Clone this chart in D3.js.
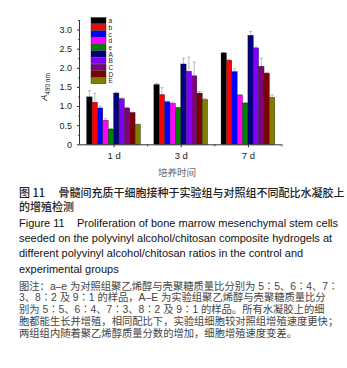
<!DOCTYPE html>
<html><head><meta charset="utf-8">
<script src="https://cdn.jsdelivr.net/npm/d3@7"></script>
<style>body{margin:0;background:#fff}svg{display:block}</style>
</head><body>
<svg id="c" width="347" height="368"></svg>
<script>
const days = ["1 d", "3 d", "7 d"];
const seriesKeys = ["a","b","c","d","e","A","B","C","D","E"];
const seriesColors = ["#000000","#ff0000","#0000ff","#ff00ff","#008000","#000080","#8000ff","#800080","#800000","#808000"];
// values per series for [1 d, 3 d, 7 d]
const valA_ = [1.24, 1.56, 2.39];
const valB_ = [1.10, 1.30, 2.20];
const valC_ = [0.95, 1.11, 1.90];
const valD_ = [0.63, 1.07, 1.29];
const valE_ = [0.40, 0.96, 1.08];
const valAA = [1.34, 2.10, 2.85];
const valBB = [1.19, 1.91, 2.52];
const valCC = [0.95, 1.79, 2.04];
const valDD = [0.83, 1.34, 1.86];
const valEE = [0.52, 1.17, 1.23];
const errA_ = [0.16, 0.03, 0.01];
const errB_ = [0.23, 0.18, 0.02];
const errC_ = [0.05, 0.02, 0.07];
const errD_ = [0.04, 0.03, 0.01];
const errE_ = [0.02, 0.00, 0.01];
const errAA = [0.02, 0.15, 0.10];
const errBB = [0.02, 0.37, 0.02];
const errCC = [0.02, 0.36, 0.21];
const errDD = [0.01, 0.04, 0.02];
const errEE = [0.01, 0.02, 0.06];
const yTicks = [0, 0.5, 1.0, 1.5, 2.0, 2.5, 3.0];
const yTickLabels = ["0", "0.5", "1.0", "1.5", "2.0", "2.5", "3.0"];
const xTitle = "培养时间";
const captionTitle = ["图 11\u3000 骨髓间充质干细胞接种于实验组与对照组不同配比水凝胶上", "的增殖检测"];
const captionFig = "Figure 11";
const captionEn = ["Proliferation of bone marrow mesenchymal stem cells",
  "seeded on the polyvinyl alcohol/chitosan composite hydrogels at",
  "different polyvinyl alcohol/chitosan ratios in the control and",
  "experimental groups"];
const captionNote = ["图注：a–e 为对照组聚乙烯醇与壳聚糖质量比分别为 5∶5、6∶4、7∶",
  "3、8∶2 及 9∶1 的样品，A–E 为实验组聚乙烯醇与壳聚糖质量比分",
  "别为 5∶5、6∶4、7∶3、8∶2 及 9∶1 的样品。所有水凝胶上的细",
  "胞都能生长并增殖，相同配比下，实验组细胞较对照组增殖速度更快；",
  "两组组内随着聚乙烯醇质量分数的增加，细胞增殖速度变差。"];

const vals = [valA_, valB_, valC_, valD_, valE_, valAA, valBB, valCC, valDD, valEE];
const errs = [errA_, errB_, errC_, errD_, errE_, errAA, errBB, errCC, errDD, errEE];

const svg = d3.select("#c");
const x0 = 80, x1 = 281.5, yBase = 144.3, yTop = 20;
const x = d3.scaleLinear().domain([0.5, 3.5]).range([x0, x1]);
const y = d3.scaleLinear().domain([0, 3.25]).range([yBase, yTop]);
const inner = d3.scaleBand().domain(seriesKeys).range([-0.4, 0.4]).padding(0);
const gw = x(1) - x(0);

// bars
const data = [];
seriesKeys.forEach((k, si) => days.forEach((d, di) => data.push({k, si, di, v: vals[si][di], e: errs[si][di]})));
const g = svg.append("g");
g.selectAll("line.err").data(data).enter().append("line")
  .attr("x1", d => x(d.di + 1 + inner(d.k) + inner.bandwidth()/2))
  .attr("x2", d => x(d.di + 1 + inner(d.k) + inner.bandwidth()/2))
  .attr("y1", d => y(d.v)).attr("y2", d => y(d.v + d.e))
  .attr("stroke", "#aaa").attr("stroke-width", 0.8);
g.selectAll("line.cap").data(data).enter().append("line")
  .attr("x1", d => x(d.di + 1 + inner(d.k) + inner.bandwidth()*0.2))
  .attr("x2", d => x(d.di + 1 + inner(d.k) + inner.bandwidth()*0.8))
  .attr("y1", d => y(d.v + d.e)).attr("y2", d => y(d.v + d.e))
  .attr("stroke", "#aaa").attr("stroke-width", 0.8);
g.selectAll("rect").data(data).enter().append("rect")
  .attr("x", d => x(d.di + 1 + inner(d.k)))
  .attr("width", inner.bandwidth() * gw)
  .attr("y", d => y(d.v))
  .attr("height", d => y(0) - y(d.v))
  .attr("fill", d => seriesColors[d.si])
  .attr("stroke", "#222").attr("stroke-width", 0.4);

// y axis
const yAxis = d3.axisLeft(y).tickValues(yTicks).tickFormat((d, i) => yTickLabels[i]).tickSize(3).tickPadding(5);
const ya = svg.append("g").attr("transform", `translate(${x0},0)`).call(yAxis);
ya.select(".domain").attr("stroke", "#333").attr("d", `M-0.5,${yBase}V${yTop}`);
ya.selectAll(".tick line").attr("stroke", "#333");
ya.selectAll("text").attr("font-family", "Liberation Sans, Arial, sans-serif").attr("font-size", 9).attr("fill", "#222");
const yMinor = d3.axisLeft(y).tickValues(d3.range(0.25, 3.3, 0.5)).tickFormat("").tickSize(1.8);
const ym = svg.append("g").attr("transform", `translate(${x0},0)`).call(yMinor);
ym.select(".domain").remove();
ym.selectAll(".tick line").attr("stroke", "#333");

// x axis
const xAxis = d3.axisBottom(x).tickValues([1, 2, 3]).tickFormat((d, i) => days[i]).tickSize(3).tickPadding(5);
const xa = svg.append("g").attr("transform", `translate(0,${yBase})`).call(xAxis);
xa.select(".domain").attr("stroke", "#333").attr("d", `M${x0},0.5H${x1}`);
xa.selectAll(".tick line").attr("stroke", "#333");
xa.selectAll("text").attr("font-family", "Liberation Sans, Arial, sans-serif").attr("font-size", 9.5).attr("fill", "#222");
const xMinor = d3.axisBottom(x).tickValues([1.5, 2.5, 3.5]).tickFormat("").tickSize(2);
const xm = svg.append("g").attr("transform", `translate(0,${yBase})`).call(xMinor);
xm.select(".domain").remove();
xm.selectAll(".tick line").attr("stroke", "#333");

// y title
const yt = svg.append("text").attr("transform", "translate(47,87) rotate(-90)")
  .attr("text-anchor", "middle").attr("font-family", "Liberation Sans, Arial, sans-serif").attr("fill", "#222");
yt.append("tspan").attr("font-style", "italic").attr("font-size", 9).text("A");
yt.append("tspan").attr("font-size", 6.5).attr("dy", 2.5).text("490 nm");

// x title
svg.append("text").attr("x", 177).attr("y", 176).attr("text-anchor", "middle")
  .attr("font-family", "Noto Sans CJK SC").attr("font-size", 9.5).attr("fill", "#666").text(xTitle);

// legend
const lg = svg.append("g");
seriesKeys.forEach((k, i) => {
  const yy = 17.5 + i * 6.67;
  lg.append("rect").attr("x", 91).attr("y", yy).attr("width", 15).attr("height", 6.2)
    .attr("fill", seriesColors[i]).attr("stroke", "#222").attr("stroke-width", 0.4);
  lg.append("text").attr("x", 108.5).attr("y", yy + 5.8).attr("font-family", "Liberation Sans, Arial, sans-serif")
    .attr("font-size", 6.5).attr("fill", "#222").text(k);
});

// caption
const cap = svg.append("g");
captionTitle.forEach((t, i) => cap.append("text").attr("x", 19).attr("y", 196.5 + i * 14.5)
  .attr("font-family", "Noto Sans CJK SC").attr("font-size", 11).attr("font-weight", 500).attr("fill", "#222").style("white-space", "pre").text(t));
cap.append("text").attr("x", 19).attr("y", 227)
  .attr("font-family", "Liberation Sans, Arial, sans-serif").attr("font-size", 11).attr("fill", "#111").text(captionFig);
captionEn.forEach((t, i) => cap.append("text").attr("x", i === 0 ? 77 : 19).attr("y", 227 + i * 15.2)
  .attr("font-family", "Liberation Sans, Arial, sans-serif").attr("font-size", 11).attr("fill", "#111").text(t));
captionNote.forEach((t, i) => cap.append("text").attr("x", 19).attr("y", 289.5 + i * 11.9)
  .attr("font-family", "'Liberation Sans', 'Noto Sans CJK SC', sans-serif").attr("font-size", 10.3).attr("fill", "#444").text(t));
</script>
</body></html>
